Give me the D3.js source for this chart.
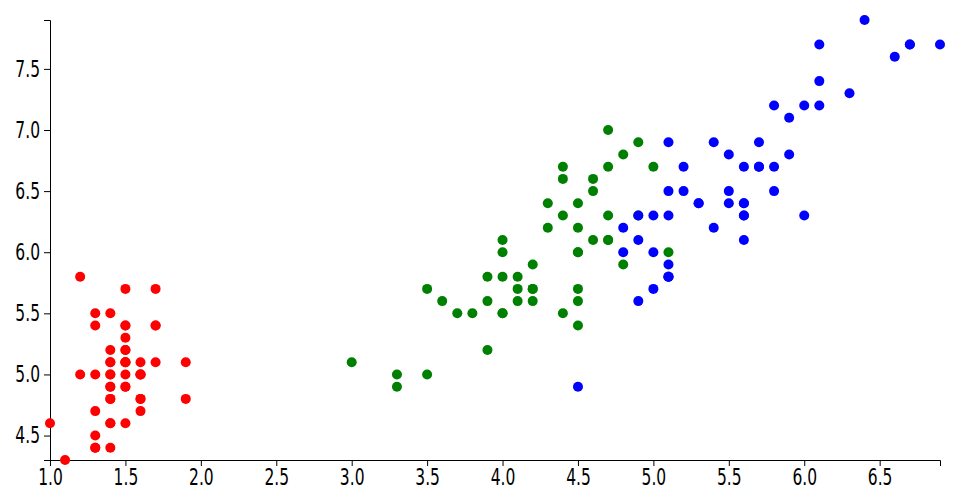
<!DOCTYPE html>
<html><head><meta charset="utf-8">
<script src="https://cdn.jsdelivr.net/npm/d3@7"></script>
<style>
body{margin:0;background:#fff;}
</style></head>
<body><svg id="chart" width="960" height="500"></svg>
<script>
const species = ["setosa","versicolor","virginica"];
const speciesColors = ["red","green","blue"];
// petal length (x), sepal length (y)
const setosaPetal = [1.4,1.4,1.3,1.5,1.4,1.7,1.4,1.5,1.4,1.5,1.5,1.6,1.4,1.1,1.2,1.5,1.3,1.4,1.7,1.5,1.7,1.5,1.0,1.7,1.9,1.6,1.6,1.5,1.4,1.6,1.6,1.5,1.5,1.4,1.5,1.2,1.3,1.4,1.3,1.5,1.3,1.3,1.3,1.6,1.9,1.4,1.6,1.4,1.5,1.4];
const setosaSepal = [5.1,4.9,4.7,4.6,5.0,5.4,4.6,5.0,4.4,4.9,5.4,4.8,4.8,4.3,5.8,5.7,5.4,5.1,5.7,5.1,5.4,5.1,4.6,5.1,4.8,5.0,5.0,5.2,5.2,4.7,4.8,5.4,5.2,5.5,4.9,5.0,5.5,4.9,4.4,5.1,5.0,4.5,4.4,5.0,5.1,4.8,5.1,4.6,5.3,5.0];
const versicolorPetal = [4.7,4.5,4.9,4.0,4.6,4.5,4.7,3.3,4.6,3.9,3.5,4.2,4.0,4.7,3.6,4.4,4.5,4.1,4.5,3.9,4.8,4.0,4.9,4.7,4.3,4.4,4.8,5.0,4.5,3.5,3.8,3.7,3.9,5.1,4.5,4.5,4.7,4.4,4.1,4.0,4.4,4.6,4.0,3.3,4.2,4.2,4.2,4.3,3.0,4.1];
const versicolorSepal = [7.0,6.4,6.9,5.5,6.5,5.7,6.3,4.9,6.6,5.2,5.0,5.9,6.0,6.1,5.6,6.7,5.6,5.8,6.2,5.6,5.9,6.1,6.3,6.1,6.4,6.6,6.8,6.7,6.0,5.7,5.5,5.5,5.8,6.0,5.4,6.0,6.7,6.3,5.6,5.5,5.5,6.1,5.8,5.0,5.6,5.7,5.7,6.2,5.1,5.7];
const virginicaPetal = [6.0,5.1,5.9,5.6,5.8,6.6,4.5,6.3,5.8,6.1,5.1,5.3,5.5,5.0,5.1,5.3,5.5,6.7,6.9,5.0,5.7,4.9,6.7,4.9,5.7,6.0,4.8,4.9,5.6,5.8,6.1,6.4,5.6,5.1,5.6,6.1,5.6,5.5,4.8,5.4,5.6,5.1,5.1,5.9,5.7,5.2,5.0,5.2,5.4,5.1];
const virginicaSepal = [6.3,5.8,7.1,6.3,6.5,7.6,4.9,7.3,6.7,7.2,6.5,6.4,6.8,5.7,5.8,6.4,6.5,7.7,7.7,6.0,6.9,5.6,7.7,6.3,6.7,7.2,6.2,6.1,6.4,7.2,7.4,7.9,6.4,6.3,6.1,7.7,6.3,6.4,6.0,6.9,6.7,6.9,5.8,6.8,6.7,6.7,6.3,6.5,6.2,5.9];
const xTicks = [1.0,1.5,2.0,2.5,3.0,3.5,4.0,4.5,5.0,5.5,6.0,6.5];
const yTicks = [4.5,5.0,5.5,6.0,6.5,7.0,7.5];

const petals = [setosaPetal, versicolorPetal, virginicaPetal];
const sepals = [setosaSepal, versicolorSepal, virginicaSepal];
const data = [];
species.forEach((s,i)=>petals[i].forEach((p,j)=>data.push({species:s, x:p, y:sepals[i][j], c:speciesColors[i]})));

const width=960, height=500, margin={top:20,right:20,bottom:40,left:50};
const svg = d3.select("#chart");
const x = d3.scaleLinear().domain(d3.extent(data,d=>d.x)).range([margin.left,width-margin.right]);
const y = d3.scaleLinear().domain(d3.extent(data,d=>d.y)).range([height-margin.bottom,margin.top]);

const sx = 0.75;
const gx = svg.append("g").attr("transform",`translate(0,${height-margin.bottom})`)
  .call(d3.axisBottom(x).tickValues(xTicks).tickFormat(d3.format(".1f")).tickSize(6));
gx.attr("font-size",23).attr("font-family","DejaVu Sans Condensed, sans-serif");
gx.selectAll(".tick text").attr("y",9).attr("transform",`scale(${sx},1)`);

const gy = svg.append("g").attr("transform",`translate(${margin.left},0)`)
  .call(d3.axisLeft(y).tickValues(yTicks).tickFormat(d3.format(".1f")).tickSize(6));
gy.attr("font-size",23).attr("font-family","DejaVu Sans Condensed, sans-serif");
gy.selectAll(".tick text").attr("x",-10/sx).attr("transform",`scale(${sx},1)`);

svg.append("g").selectAll("circle").data(data).join("circle")
  .attr("cx",d=>x(d.x)).attr("cy",d=>y(d.y)).attr("r",5).attr("fill",d=>d.c);
</script></body></html>
